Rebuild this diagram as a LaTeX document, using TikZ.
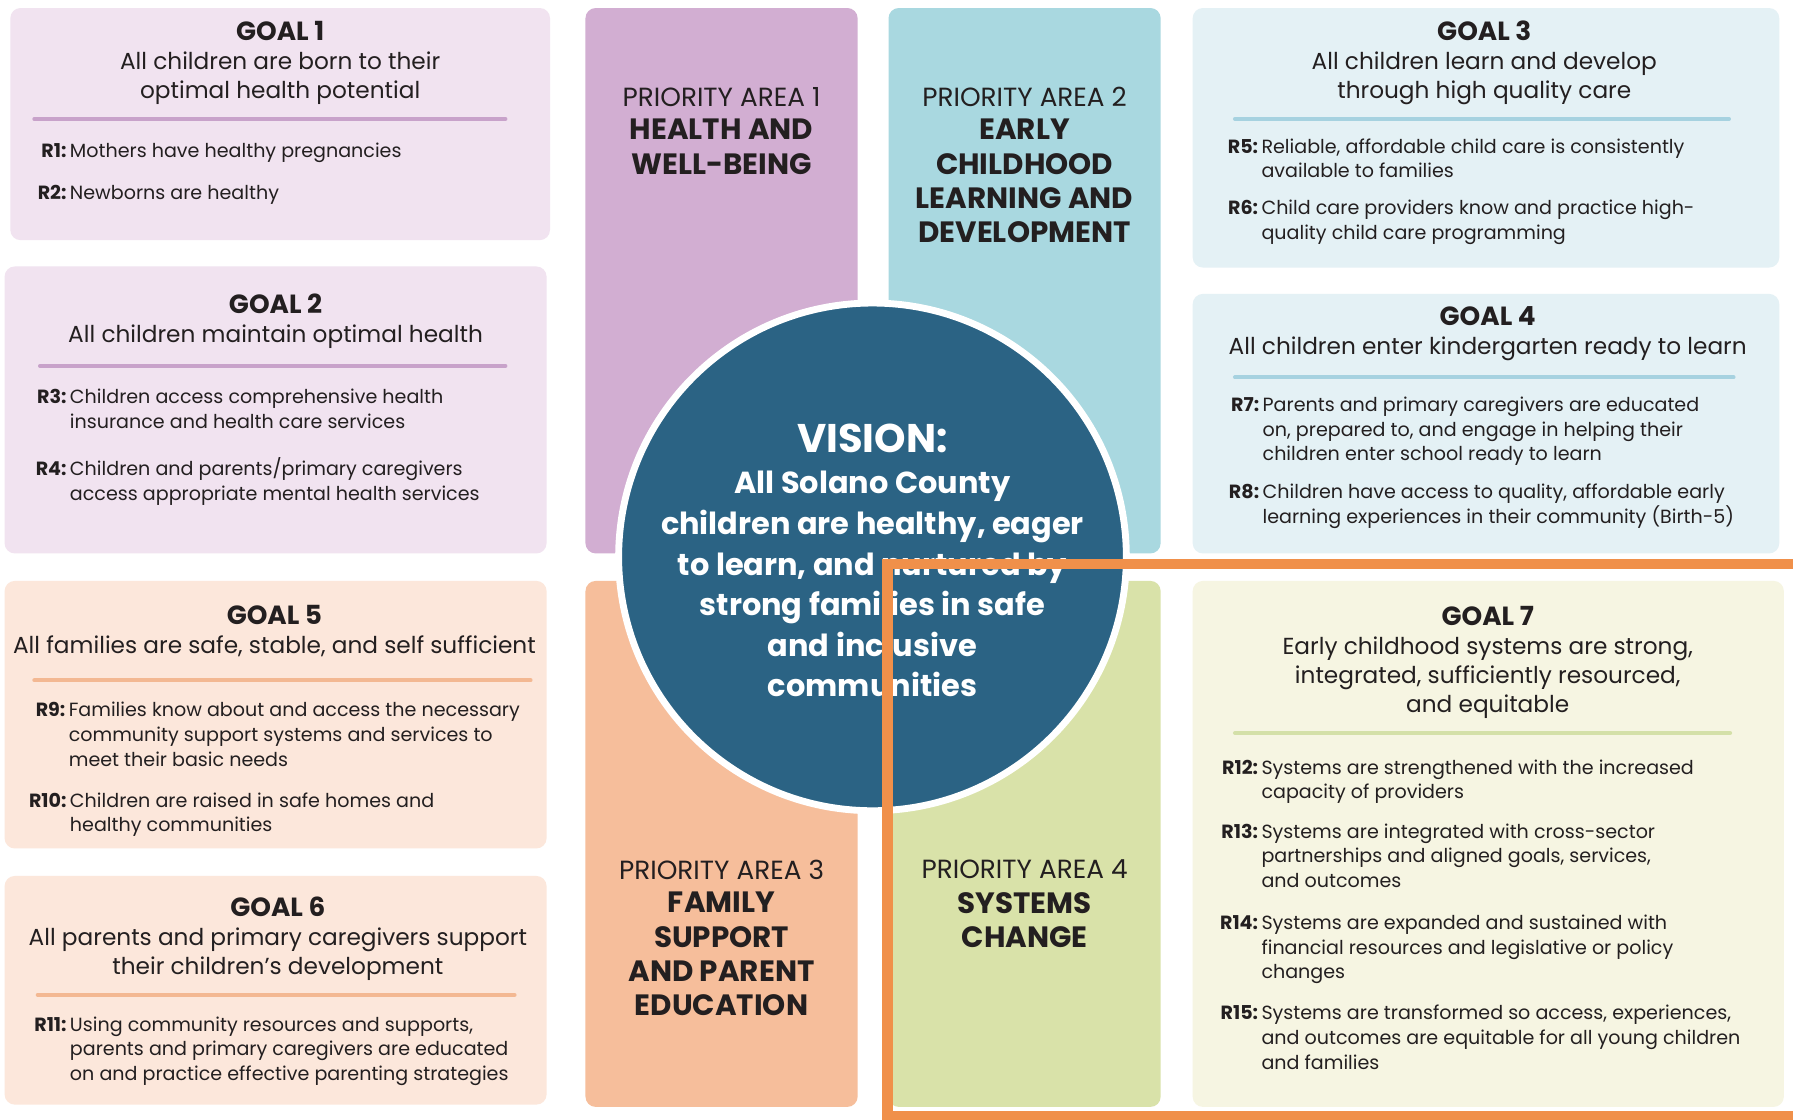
\documentclass[tikz,border=0pt]{standalone}
\usepackage{fontspec}
\setmainfont{Poppins}
\definecolor{gApbg}{HTML}{F1E3F0}
\definecolor{gApln}{HTML}{C8A2CA}
\definecolor{paA}{HTML}{D2AED2}
\definecolor{paB}{HTML}{A9D8E0}
\definecolor{gBbg}{HTML}{E4F1F5}
\definecolor{gBln}{HTML}{A6D2E0}
\definecolor{gCbg}{HTML}{FCE7DB}
\definecolor{gCln}{HTML}{F3B892}
\definecolor{paC}{HTML}{F6BE9B}
\definecolor{paD}{HTML}{D9E2A9}
\definecolor{gDbg}{HTML}{F6F5E2}
\definecolor{gDln}{HTML}{D4E0A8}
\definecolor{vis}{HTML}{2B6384}
\definecolor{hl}{HTML}{F0904A}
\definecolor{ink}{HTML}{231F20}
\begin{document}
\begin{tikzpicture}[x=1pt,y=-1pt,
  card/.style={rounded corners=9pt},
  divider/.style={line width=3.5pt,line cap=round},
  head/.style={font=\fontsize{20.3}{25.5}\selectfont,align=center,anchor=north,inner sep=0pt,text=ink},
  ritem/.style={font=\fontsize{16.7}{21.5}\selectfont,align=left,anchor=north west,inner sep=0pt,text=ink},
  patop/.style={font=\fontsize{23}{30}\selectfont,anchor=north,inner sep=0pt,text=ink},
  pabold/.style={font=\bfseries\fontsize{25.7}{30}\selectfont,align=center,anchor=north,inner sep=0pt,text=ink},
  vhead/.style={font=\bfseries\fontsize{35}{36}\selectfont,anchor=north,inner sep=0pt,text=white},
  vbody/.style={font=\bfseries\fontsize{26.6}{35.5}\selectfont,align=center,anchor=north,inner sep=0pt,text=white}]
\newcommand{\rl}[1]{\llap{\textbf{#1}\hspace{3pt}}}
\newcommand{\gl}[1]{{\fontsize{23}{25.5}\selectfont\textbf{#1}}}
\useasboundingbox (0,0) rectangle (1568,979);
\fill[white] (0,0) rectangle (1568,979);
% cards
\fill[gApbg,card] (9,7) rectangle (481,210);
\fill[gApbg,card] (4,233) rectangle (478,484);
\fill[gCbg,card] (4,508) rectangle (478,742);
\fill[gCbg,card] (4,766) rectangle (478,966);
\fill[paA,card] (512,7) rectangle (750,484);
\fill[paB,card] (777,7) rectangle (1015,484);
\fill[paC,card] (512,508) rectangle (750,968);
\fill[paD,card] (777,508) rectangle (1015,968);
\fill[gBbg,card] (1043,7) rectangle (1556,234);
\fill[gBbg,card] (1043,257) rectangle (1556,484);
\fill[gDbg,card] (1043,508) rectangle (1560,968);
% dividers
\draw[divider,gApln] (30,104) -- (442,104);
\draw[divider,gApln] (35,320) -- (442,320);
\draw[divider,gBln] (1080,104) -- (1512,104);
\draw[divider,gBln] (1080,330) -- (1516,330);
\draw[divider,gCln] (30,595) -- (464,595);
\draw[divider,gCln] (33,870) -- (450,870);
\draw[divider,gDln] (1080,641) -- (1513,641);
% goal 1
\node[head] (g1) at (245,18) {\gl{GOAL 1}\\All children are born to their\\optimal health potential};
\node[ritem] (r1) at (61,125) {\rl{R1:}Mothers have healthy pregnancies};
\node[ritem] (r2) at (61,162) {\rl{R2:}Newborns are healthy};
% goal 2
\node[head] (g2) at (241,257) {\gl{GOAL 2}\\All children maintain optimal health};
\node[ritem] (r3) at (61,340) {\rl{R3:}Children access comprehensive health\\insurance and health care services};
\node[ritem] (r4) at (61,400) {\rl{R4:}Children and parents/primary caregivers\\access appropriate mental health services};
% goal 3
\node[head] (g3) at (1298,18) {\gl{GOAL 3}\\All children learn and develop\\through high quality care};
\node[ritem] (r5) at (1103,121) {\rl{R5:}Reliable, affordable child care is consistently\\available to families};
\node[ritem] (r6) at (1103,175) {\rl{R6:}Child care providers know and practice high-\\quality child care programming};
% goal 4
\node[head] (g4) at (1301,268) {\gl{GOAL 4}\\All children enter kindergarten ready to learn};
\node[ritem] (r7) at (1104,347) {\rl{R7:}Parents and primary caregivers are educated\\on, prepared to, and engage in helping their\\children enter school ready to learn};
\node[ritem] (r8) at (1104,423) {\rl{R8:}Children have access to quality, affordable early\\learning experiences in their community (Birth-5)};
% goal 5
\node[head] (g5) at (240,529) {\gl{GOAL 5}\\All families are safe, stable, and self sufficient};
\node[ritem] (r9) at (60,614) {\rl{R9:}Families know about and access the necessary\\community support systems and services to\\meet their basic needs};
\node[ritem] (r10) at (61,693) {\rl{R10:}Children are raised in safe homes and\\healthy communities};
% goal 6
\node[head] (g6) at (243,784) {\gl{GOAL 6}\\All parents and primary caregivers support\\their children’s development};
\node[ritem] (r11) at (61,889) {\rl{R11:}Using community resources and supports,\\parents and primary caregivers are educated\\on and practice effective parenting strategies};
% goal 7
\node[head] (g7) at (1301,530) {\gl{GOAL 7}\\Early childhood systems are strong,\\integrated, sufficiently resourced,\\and equitable};
\node[ritem] (r12) at (1103,664) {\rl{R12:}Systems are strengthened with the increased\\capacity of providers};
\node[ritem] (r13) at (1103,720) {\rl{R13:}Systems are integrated with cross-sector\\partnerships and aligned goals, services,\\and outcomes};
\node[ritem] (r14) at (1103,800) {\rl{R14:}Systems are expanded and sustained with\\financial resources and legislative or policy\\changes};
\node[ritem] (r15) at (1103,879) {\rl{R15:}Systems are transformed so access, experiences,\\and outcomes are equitable for all young children\\and families};
% priority areas
\node[patop] (p1) at (631,76) {PRIORITY AREA 1};
\node[pabold] (p1t) at (631,104) {HEALTH AND\\WELL-BEING};
\node[patop] (p2) at (896,76) {PRIORITY AREA 2};
\node[pabold] (p2t) at (896,104) {EARLY\\CHILDHOOD\\LEARNING AND\\DEVELOPMENT};
\node[patop] (p3) at (631,752) {PRIORITY AREA 3};
\node[pabold] (p3t) at (631,780) {FAMILY\\SUPPORT\\AND PARENT\\EDUCATION};
\node[patop] (p4) at (896,752) {PRIORITY AREA 4};
\node[pabold] (p4t) at (896,780) {SYSTEMS\\CHANGE};
% vision circle
\fill[vis] (763,487) circle (220);
\draw[white,line width=6pt] (763,487) circle (222);
\node[vhead] (vh) at (763,371) {VISION:};
\node[vbody] (vb) at (763,412) {All Solano County\\children are healthy, eager\\to learn, and nurtured by\\strong families in safe\\and inclusive\\communities};
% highlight frame
\draw[hl,line width=9pt] (776,493) rectangle (1590,976);
\end{tikzpicture}
\end{document}
